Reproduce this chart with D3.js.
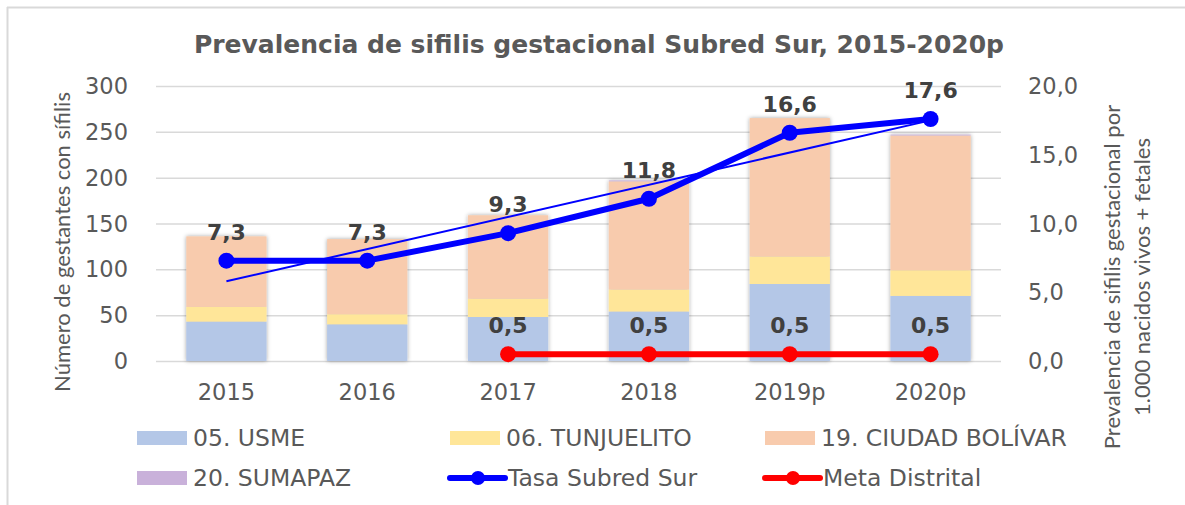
<!DOCTYPE html>
<html>
<head>
<meta charset="utf-8">
<script src="https://cdn.jsdelivr.net/npm/d3@7"></script>
<style>
  body { margin: 0; background: #fff; }
  svg { display: block; }
  text { font-family: "DejaVu Sans", sans-serif; fill: #595959; }
</style>
</head>
<body>
<div id="chart"></div>
<script>
// data
const years = ["2015", "2016", "2017", "2018", "2019p", "2020p"];
const usme = [43, 40, 48, 54, 84, 71];
const tunjuelito = [16, 11, 20, 24, 30, 28];
const ciudadBolivar = [77, 82, 91, 118, 151, 147];
const sumapaz = [0, 0, 0, 1, 0, 1];
const tasaSubred = [7.3, 7.3, 9.3, 11.8, 16.6, 17.6];
const metaDistrital = [null, null, 0.5, 0.5, 0.5, 0.5];
const leftTicks = [0, 50, 100, 150, 200, 250, 300];
const rightTicks = [0, 5, 10, 15, 20];

const width = 1185, height = 505;
const plotTop = 86, plotBottom = 361, plotLeft = 156, plotRight = 1001;

const svg = d3.select("#chart").append("svg")
    .attr("width", width)
    .attr("height", height);

// bar shadow
const defs = svg.append("defs");
defs.append("filter").attr("id", "shadow")
    .attr("x", "-20%").attr("y", "-10%").attr("width", "140%").attr("height", "120%")
    .append("feDropShadow")
    .attr("dx", 0).attr("dy", 0).attr("stdDeviation", 2)
    .attr("flood-color", "#000").attr("flood-opacity", 0.35);

// frame (top and left edges only)
svg.append("line").attr("x1", 7).attr("x2", width).attr("y1", 7.5).attr("y2", 7.5)
    .attr("stroke", "#d9d9d9").attr("stroke-width", 2);
svg.append("line").attr("x1", 7.5).attr("x2", 7.5).attr("y1", 7).attr("y2", height)
    .attr("stroke", "#d9d9d9").attr("stroke-width", 2);

const x = d3.scaleBand().domain(years).range([plotLeft, plotRight])
    .paddingInner(0.43).paddingOuter(0.215);
const yL = d3.scaleLinear().domain([0, 300]).range([plotBottom, plotTop]);
const yR = d3.scaleLinear().domain([0, 20]).range([plotBottom, plotTop]);

// gridlines
svg.append("g").selectAll("line").data(leftTicks).enter().append("line")
    .attr("x1", plotLeft).attr("x2", plotRight)
    .attr("y1", d => yL(d) + 0.5).attr("y2", d => yL(d) + 0.5)
    .attr("stroke", "#d9d9d9").attr("stroke-width", 1.5);

// axis labels
const fmtR = d3.format(".1f");
svg.append("g").selectAll("text").data(leftTicks).enter().append("text")
    .attr("x", 128).attr("y", d => yL(d))
    .attr("dy", "0.36em")
    .attr("text-anchor", "end")
    .style("font-size", "22.5px")
    .text(d => d);

svg.append("g").selectAll("text").data(rightTicks).enter().append("text")
    .attr("x", 1028).attr("y", d => yR(d))
    .attr("dy", "0.36em")
    .style("font-size", "22.5px")
    .text(d => fmtR(d).replace(".", ","));

// category labels
svg.append("g").selectAll("text").data(years).enter().append("text")
    .attr("x", d => x(d) + x.bandwidth() / 2).attr("y", 400)
    .attr("text-anchor", "middle")
    .style("font-size", "22.5px")
    .text(d => d);

// stacked bars
const rows = years.map((yr, i) => ({
    year: yr, usme: usme[i], tunjuelito: tunjuelito[i],
    bolivar: ciudadBolivar[i], sumapaz: sumapaz[i]
}));
const keys = ["usme", "tunjuelito", "bolivar", "sumapaz"];
const colors = { usme: "#b4c7e7", tunjuelito: "#ffe699", bolivar: "#f8cbad", sumapaz: "#c9b1da" };
const stack = d3.stack().keys(keys)(rows);

const barG = svg.append("g").attr("filter", "url(#shadow)");
stack.forEach(layer => {
    barG.append("g").attr("fill", colors[layer.key])
        .selectAll("rect").data(layer).enter().append("rect")
        .attr("x", d => x(d.data.year))
        .attr("width", x.bandwidth())
        .attr("y", d => yL(d[1]))
        .attr("height", d => yL(d[0]) - yL(d[1]));
});

const cx = d => x(d) + x.bandwidth() / 2;

// linear trendline for Tasa Subred Sur
const idx = tasaSubred.map((v, i) => i);
const mx = d3.mean(idx), my = d3.mean(tasaSubred);
const slope = d3.sum(idx, i => (i - mx) * (tasaSubred[i] - my)) / d3.sum(idx, i => (i - mx) ** 2);
const icpt = my - slope * mx;
svg.append("line")
    .attr("x1", cx(years[0])).attr("y1", yR(icpt))
    .attr("x2", cx(years[5])).attr("y2", yR(icpt + slope * 5))
    .attr("stroke", "#0000ff").attr("stroke-width", 2);

// Meta Distrital
const metaPts = years.map((yr, i) => ({ yr, v: metaDistrital[i] })).filter(d => d.v != null);
const line = d3.line().x(d => cx(d.yr)).y(d => yR(d.v));
svg.append("path").datum(metaPts)
    .attr("d", line)
    .attr("fill", "none").attr("stroke", "#ff0000").attr("stroke-width", 6);
svg.append("g").selectAll("circle").data(metaPts).enter().append("circle")
    .attr("cx", d => cx(d.yr)).attr("cy", d => yR(d.v)).attr("r", 8)
    .attr("fill", "#ff0000");

// Tasa Subred Sur
const tasaPts = years.map((yr, i) => ({ yr, v: tasaSubred[i] }));
svg.append("path").datum(tasaPts)
    .attr("d", line)
    .attr("fill", "none").attr("stroke", "#0000ff").attr("stroke-width", 6)
    .attr("stroke-linejoin", "round");
svg.append("g").selectAll("circle").data(tasaPts).enter().append("circle")
    .attr("cx", d => cx(d.yr)).attr("cy", d => yR(d.v)).attr("r", 8)
    .attr("fill", "#0000ff");

// data labels
const labels = tasaPts.concat(metaPts);
svg.append("g").selectAll("text").data(labels).enter().append("text")
    .attr("x", d => cx(d.yr)).attr("y", d => yR(d.v) - 21)
    .attr("text-anchor", "middle")
    .style("font-size", "22px").style("font-weight", "bold").style("fill", "#404040")
    .text(d => fmtR(d.v).replace(".", ","));

// title
svg.append("text")
    .attr("x", 599).attr("y", 53)
    .attr("text-anchor", "middle")
    .style("font-size", "25px").style("font-weight", "bold")
    .text("Prevalencia de sifilis gestacional Subred Sur, 2015-2020p");

// axis titles
svg.append("text")
    .attr("transform", "translate(70,242) rotate(-90)")
    .attr("text-anchor", "middle")
    .style("font-family", "Lato, sans-serif").style("font-size", "22px")
    .text("Número de gestantes con sífilis");

const rt = svg.append("text")
    .attr("transform", "translate(1120,277) rotate(-90)")
    .attr("text-anchor", "middle")
    .style("font-family", "Lato, sans-serif").style("font-size", "22px");
rt.append("tspan").attr("x", 0).attr("dy", 0).text("Prevalencia de sifilis gestacional por");
rt.append("tspan").attr("x", 0).attr("dy", 30).text("1.000 nacidos vivos + fetales");

// legend
const legendItems = [
    { name: "05. USME", type: "rect", color: colors.usme, col: 0, row: 0 },
    { name: "06. TUNJUELITO", type: "rect", color: colors.tunjuelito, col: 1, row: 0 },
    { name: "19. CIUDAD BOLÍVAR", type: "rect", color: colors.bolivar, col: 2, row: 0 },
    { name: "20. SUMAPAZ", type: "rect", color: colors.sumapaz, col: 0, row: 1 },
    { name: "Tasa Subred Sur", type: "line", color: "#0000ff", col: 1, row: 1 },
    { name: "Meta Distrital", type: "line", color: "#ff0000", col: 2, row: 1 }
];
const colX = [137, 450, 765], rowY = [438, 478];
const lg = svg.append("g").selectAll("g").data(legendItems).enter().append("g")
    .attr("transform", d => `translate(${colX[d.col]},${rowY[d.row]})`);
lg.filter(d => d.type === "rect").append("rect")
    .attr("x", 0).attr("y", -7).attr("width", 50).attr("height", 14)
    .attr("fill", d => d.color);
lg.filter(d => d.type === "line").append("line")
    .attr("x1", 0).attr("x2", 55).attr("y1", 0).attr("y2", 0)
    .attr("stroke", d => d.color).attr("stroke-width", 6).attr("stroke-linecap", "round");
lg.filter(d => d.type === "line").append("circle")
    .attr("cx", 28).attr("cy", 0).attr("r", 7).attr("fill", d => d.color);
lg.append("text")
    .attr("x", d => d.type === "rect" ? 56 : 58).attr("y", 0).attr("dy", "0.36em")
    .style("font-size", "23.5px")
    .text(d => d.name);
</script>
</body>
</html>
